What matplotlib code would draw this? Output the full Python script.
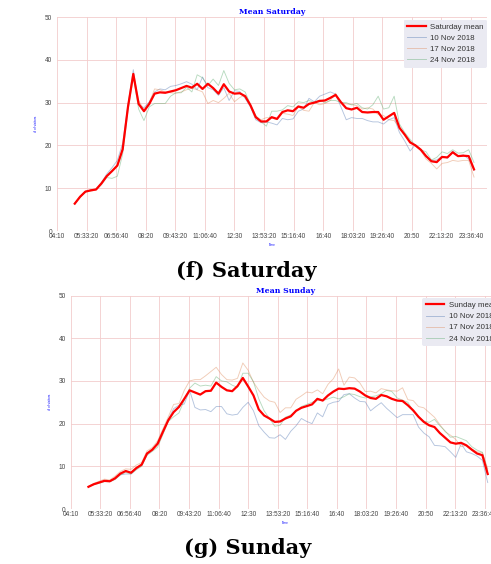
import matplotlib
matplotlib.use("Agg")
import matplotlib.pyplot as plt
from matplotlib.ticker import FixedLocator, FuncFormatter

# ---- data: 15-minute slots from 05:00 to 23:45 ----
slots = [f"{h:02d}:{m:02d}" for h in range(5, 24) for m in (0, 15, 30, 45)]

sat_mean = [6.4, 8.0, 9.2, 9.5, 9.7, 11.1, 12.8, 14.0, 15.3, 19.1,
            29.0, 36.7, 29.7, 28.0, 29.7, 32.1, 32.4, 32.3, 32.6, 32.9,
            33.4, 33.9, 33.5, 34.4, 33.2, 34.4, 33.4, 32.1, 34.3, 32.6,
            32.1, 32.2, 31.5, 29.4, 26.6, 25.6, 25.6, 26.6, 26.2, 27.8,
            28.2, 28.0, 29.1, 28.8, 29.7, 30.0, 30.4, 30.5, 31.1, 31.8,
            30.1, 28.7, 28.4, 28.8, 27.8, 27.7, 27.8, 27.8, 26.0, 26.8,
            27.6, 24.1, 22.5, 20.7, 20.0, 19.0, 17.5, 16.3, 16.1, 17.3,
            17.2, 18.4, 17.5, 17.6, 17.5, 14.4]
sat_10nov = [6.3, 8.1, 9.3, 9.6, 9.8, 11.3, 13.3, 14.8, 16.5, 20.5,
             29.5, 37.7, 29.5, 28.8, 30.2, 32.5, 33.2, 33.0, 33.8, 34.0,
             34.4, 34.9, 34.3, 33.0, 36.0, 33.5, 33.0, 31.7, 33.5, 30.5,
             32.8, 32.6, 31.0, 29.0, 26.0, 25.3, 25.5, 25.2, 24.8, 26.3,
             26.0, 26.2, 28.0, 28.5, 31.0, 30.2, 31.5, 32.0, 32.5, 32.0,
             29.0, 26.0, 26.5, 26.3, 26.3, 25.8, 25.5, 25.5, 25.0, 26.0,
             26.5, 23.0, 21.0, 18.7, 20.2, 19.0, 17.3, 16.5, 16.6, 17.5,
             17.0, 18.7, 17.5, 17.8, 16.8, 14.2]
sat_17nov = [6.4, 8.0, 9.2, 9.3, 9.6, 11.2, 12.8, 14.0, 15.2, 19.0,
             29.3, 36.5, 30.5, 28.3, 30.0, 33.2, 33.0, 32.5, 32.3, 32.2,
             32.5, 33.0, 33.4, 33.0, 32.5, 29.8, 30.5, 30.0, 31.0, 32.2,
             30.2, 31.2, 31.8, 29.5, 26.8, 26.0, 26.5, 26.4, 26.0, 27.5,
             27.3, 27.0, 29.0, 28.2, 28.0, 30.0, 29.5, 29.8, 30.5, 32.2,
             30.0, 29.7, 29.5, 29.3, 28.5, 28.8, 28.5, 27.2, 27.0, 26.0,
             25.8, 24.2, 22.3, 21.0, 19.8, 18.8, 16.8, 15.8, 14.5, 15.8,
             16.0, 16.5, 16.3, 16.5, 16.5, 12.6]
sat_24nov = [6.5, 7.9, 9.1, 9.6, 9.7, 10.8, 12.5, 12.3, 12.8, 18.0,
             28.2, 36.0, 28.5, 25.8, 29.0, 29.8, 29.8, 29.8, 31.5, 32.3,
             32.3, 33.6, 32.5, 36.5, 35.8, 34.0, 35.5, 34.0, 37.5, 34.5,
             33.0, 33.2, 32.5, 29.6, 27.0, 25.5, 24.5, 28.0, 28.0, 28.3,
             29.3, 29.0, 30.2, 30.0, 30.5, 30.0, 30.6, 30.0, 30.5, 30.5,
             30.0, 30.0, 29.5, 29.8, 28.8, 28.5, 29.5, 31.5, 28.5, 28.8,
             31.5, 25.0, 23.0, 21.4, 20.0, 19.0, 18.5, 16.6, 17.2, 18.5,
             18.1, 19.0, 18.2, 18.3, 19.0, 16.0]

sun_mean = [5.2, 5.8, 6.2, 6.6, 6.5, 7.2, 8.3, 8.9, 8.5, 9.6,
            10.4, 13.0, 13.9, 15.3, 18.1, 20.8, 22.7, 23.9, 25.8, 27.8,
            27.3, 26.8, 27.6, 27.7, 29.6, 28.6, 27.8, 27.6, 28.8, 30.7,
            28.7, 26.6, 23.3, 21.9, 21.2, 20.4, 20.5, 21.2, 21.7, 23.0,
            23.7, 24.1, 24.5, 25.8, 25.4, 26.6, 27.5, 28.2, 28.1, 28.3,
            28.2, 27.5, 26.6, 26.0, 25.8, 26.7, 26.4, 25.8, 25.4, 25.3,
            24.3, 23.1, 21.6, 20.4, 19.6, 19.2, 17.8, 16.7, 15.6, 15.3,
            15.5, 14.9, 13.9, 13.0, 12.6, 8.2]
sun_10nov = [5.2, 5.8, 6.2, 6.6, 6.4, 7.0, 8.0, 8.2, 8.2, 9.4,
             10.3, 12.7, 13.8, 15.6, 18.3, 21.0, 23.5, 24.3, 24.6, 27.8,
             23.8, 23.2, 23.3, 22.8, 24.0, 24.0, 22.3, 22.0, 22.2, 23.8,
             25.0, 23.0, 19.5, 18.0, 16.7, 16.6, 17.4, 16.3, 18.2, 19.5,
             21.2, 20.5, 20.0, 22.5, 21.6, 24.5, 25.0, 25.2, 26.8, 27.0,
             26.0, 25.2, 25.1, 23.0, 24.0, 24.9, 23.6, 22.5, 21.4, 22.1,
             22.1, 22.1, 19.2, 17.8, 16.9, 14.9, 14.8, 14.6, 13.4, 12.1,
             15.3, 13.4, 13.0, 12.4, 11.4, 6.2]
sun_17nov = [5.3, 6.0, 6.5, 7.0, 6.8, 7.7, 8.8, 9.4, 9.3, 10.3,
             10.9, 13.6, 14.4, 16.0, 18.8, 21.6, 24.5, 24.7, 27.8, 30.0,
             30.3, 30.3, 31.2, 32.2, 33.2, 31.5, 30.3, 30.2, 30.6, 34.2,
             32.5, 29.7, 27.8, 26.2, 25.3, 25.0, 22.6, 23.7, 23.7, 25.7,
             26.5, 27.4, 27.2, 27.9, 27.0, 29.2, 30.5, 32.8, 29.0, 30.9,
             30.7, 29.5, 27.5, 27.6, 27.2, 28.2, 27.9, 27.7, 27.6, 28.4,
             25.6, 25.4, 24.0, 23.7, 22.6, 21.5, 19.8, 18.1, 17.3, 16.3,
             14.6, 14.9, 14.0, 13.4, 13.2, 9.5]
sun_24nov = [5.2, 5.7, 6.0, 6.4, 6.4, 6.9, 8.0, 8.6, 8.2, 9.2,
             10.0, 12.6, 13.5, 14.5, 17.5, 20.5, 21.6, 22.5, 25.5, 28.3,
             29.5, 28.8, 29.0, 28.8, 31.0, 30.0, 29.8, 29.0, 28.5, 31.8,
             31.8, 29.8, 25.8, 23.0, 21.2, 19.4, 19.6, 21.5, 22.0, 23.0,
             24.0, 24.5, 25.0, 25.5, 25.4, 25.8, 26.2, 25.8, 26.3, 27.0,
             26.8, 26.3, 26.0, 26.3, 26.5, 27.0, 27.8, 27.5, 26.0, 25.5,
             25.0, 23.0, 21.6, 20.6, 20.3, 21.0, 19.5, 18.3, 16.8, 17.0,
             16.5, 16.0, 14.6, 13.8, 13.3, 9.0]

day_labels = ["10 Nov 2018", "17 Nov 2018", "24 Nov 2018"]
x_ticks = list(range(15000, 86000, 5000))   # seconds since midnight
y_ticks = [0, 10, 20, 30, 40, 50]


def to_sec(s):
    h, m = s.split(":")
    return int(h) * 3600 + int(m) * 60


def fmt_time(v, pos=None):
    v = int(round(v))
    h, rem = divmod(v, 3600)
    m, s = divmod(rem, 60)
    return f"{h:02d}:{m:02d}" if s == 0 else f"{h:02d}:{m:02d}:{s:02d}"


xs = [to_sec(s) for s in slots]
day_colors = ["#4c72b0", "#dd8452", "#55a868"]

fig = plt.figure(figsize=(4.91, 5.64), dpi=100)


def draw(ax, mean, days, mean_label, title):
    for vals, lab, col in zip(days, day_labels, day_colors):
        ax.plot(xs, vals, color=col, lw=0.65, alpha=0.42, label=lab, zorder=2)
    ax.plot(xs, mean, color="#ff0000", lw=1.6, label=mean_label, zorder=3)
    h, l = ax.get_legend_handles_labels()
    order = [3, 0, 1, 2]
    leg = ax.legend([h[i] for i in order], [l[i] for i in order],
                    loc="upper right", bbox_to_anchor=(1.0, 0.988),
                    borderaxespad=0, frameon=True, fancybox=True,
                    facecolor="#eaeaf2", edgecolor="none", framealpha=1,
                    prop={"family": "Liberation Sans", "size": 5.7},
                    handlelength=2.3, handletextpad=0.55, labelspacing=0.45,
                    borderpad=0.45)
    for t in leg.get_texts():
        t.set_color("#333333")
    ax.set_xlim(15000, 87700)
    ax.set_ylim(0, 50)
    ax.xaxis.set_major_locator(FixedLocator(x_ticks))
    ax.xaxis.set_major_formatter(FuncFormatter(fmt_time))
    ax.set_yticks(y_ticks)
    ax.grid(True, color="#f3cccc", lw=0.6)
    ax.set_axisbelow(True)
    for sp in ax.spines.values():
        sp.set_visible(False)
    ax.tick_params(axis="both", length=0, labelsize=4.7, labelcolor="#444444")
    ax.tick_params(axis="x", pad=1.5)
    ax.tick_params(axis="y", pad=3.5)
    for lbl in ax.get_xticklabels() + ax.get_yticklabels():
        lbl.set_family("Liberation Sans")
    ax.set_title(title, color="#0000ff", fontsize=5.6, fontweight="bold",
                 family="DejaVu Serif", pad=2)
    ax.set_xlabel("Time", color="#0000ff", fontsize=2, labelpad=2)
    ax.set_ylabel("# of visitors", color="#0000ff", fontsize=2, labelpad=5)


ax1 = fig.add_axes([0.1161, 0.5904, 0.8758, 0.3794])
draw(ax1, sat_mean, [sat_10nov, sat_17nov, sat_24nov], "Saturday mean", "Mean Saturday")

ax2 = fig.add_axes([0.1440, 0.0975, 0.8758, 0.3785])
draw(ax2, sun_mean, [sun_10nov, sun_17nov, sun_24nov], "Sunday mean", "Mean Sunday")

fig.text(0.501, 0.5195, "(f) Saturday", ha="center", va="center",
         fontsize=15, fontweight="bold", family="DejaVu Serif")
fig.text(0.505, 0.0284, "(g) Sunday", ha="center", va="center",
         fontsize=15, fontweight="bold", family="DejaVu Serif")

fig.savefig("out.png", dpi=100)
